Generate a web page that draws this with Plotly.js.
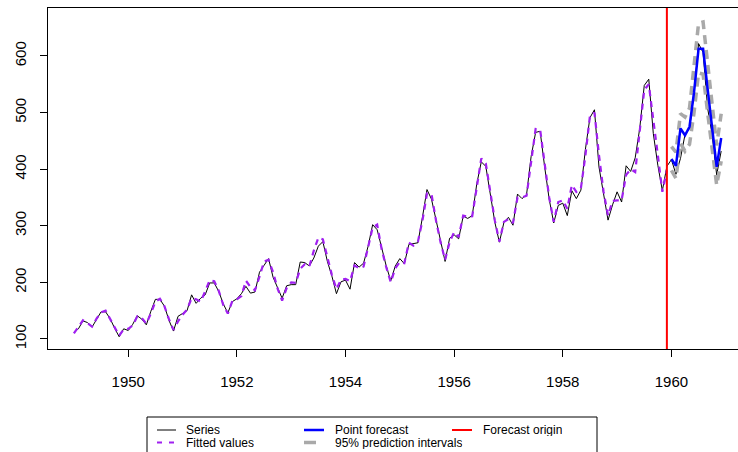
<!DOCTYPE html>
<html>
<head>
<meta charset="utf-8">
<script src="https://cdn.plot.ly/plotly-3.0.1.min.js"></script>
<style>html,body{margin:0;padding:0;background:#fff;}#chart{width:738px;height:452px;}</style>
</head>
<body>
<div id="chart"></div>
<script>
// ---- data ----
const seriesStart = 1949;
const frequency = 12;
const seriesValues = [
  112,118,132,129,121,135,148,148,136,119,104,118,
  115,126,141,135,125,149,170,170,158,133,114,140,
  145,150,178,163,172,178,199,199,184,162,146,166,
  171,180,193,181,183,218,230,242,209,191,172,194,
  196,196,236,235,229,243,264,272,237,211,180,201,
  204,188,235,227,234,264,302,293,259,229,203,229,
  242,233,267,269,270,315,364,347,312,274,237,278,
  284,277,317,313,318,374,413,405,355,306,271,306,
  315,301,356,348,355,422,465,467,404,347,305,336,
  340,318,362,348,363,435,491,505,404,359,310,337,
  360,342,406,396,420,472,548,559,463,407,362,405,
  417,391,419,461,472,535,622,606,508,461,390,432
];
const fittedValues = [
  110,121,133,128,122,136,147,150,135,120,106,117,
  118,124,140,137,127,145,166,171,158,135,116,131,
  143,152,172,170,166,184,204,202,185,160,145,167,
  170,176,203,192,186,210,237,240,218,189,168,190,
  200,199,224,232,228,256,279,276,244,213,188,205,
  206,202,230,225,228,261,297,302,258,227,200,225,
  236,234,270,265,272,309,357,356,309,271,240,271,
  289,280,318,316,317,368,419,410,356,309,272,307,
  312,305,350,350,353,413,471,470,411,350,307,342,
  345,330,372,360,366,424,494,500,425,361,318,344,
  345,345,390,400,395,465,540,550,490,425,360,398
];
const forecastStart = 1960;
const forecastValues = [418,406,472,460,475,536,613,613,542,472,404,455];
const upperValues   = [440,430,498,492,508,578,658,660,588,515,442,498];
const lowerValues   = [398,384,446,432,444,500,570,568,500,434,372,414];
const forecastOrigin = 1959 + 11/12;
const yTicks = [100,200,300,400,500,600];
const xTicks = [1950,1952,1954,1956,1958,1960];
const legendLabels = ["Series","Fitted values","Point forecast","95% prediction intervals","Forecast origin"];

// ---- build ----
const timeAxis = (start, n) => Array.from({length:n}, (_, i) => start + i/frequency);
const xSeries = timeAxis(seriesStart, seriesValues.length);
const xFitted = timeAxis(seriesStart, fittedValues.length);
const xFc = timeAxis(forecastStart, forecastValues.length);

const traces = [
  {x:xSeries, y:seriesValues, type:'scatter', mode:'lines', line:{color:'#000000', width:1}, name:legendLabels[0]},
  {x:xFitted, y:fittedValues, type:'scatter', mode:'lines', line:{color:'#A020F0', width:2.2, dash:'6px,5px'}, name:legendLabels[1]},
  {x:xFc, y:upperValues, type:'scatter', mode:'lines', line:{color:'#A9A9A9', width:3.5, dash:'9px,6px'}, name:legendLabels[3]},
  {x:xFc, y:lowerValues, type:'scatter', mode:'lines', line:{color:'#A9A9A9', width:3.5, dash:'9px,6px'}, name:legendLabels[3]},
  {x:xFc, y:forecastValues, type:'scatter', mode:'lines', line:{color:'#0000FF', width:2.5}, name:legendLabels[2]}
];

// paper coordinate helpers (plot area: x 48..738, y 8..349)
const W = 690, H = 341;
const px = v => (v - 48) / W;
const py = v => (349 - v) / H;
const row1 = py(430), row2 = py(442.5);

const shapes = [
  {type:'line', xref:'x', yref:'paper', x0:forecastOrigin, x1:forecastOrigin, y0:0, y1:1, line:{color:'#FF0000', width:2}},
  // legend box
  {type:'rect', xref:'paper', yref:'paper', x0:px(147), x1:px(597), y0:py(470), y1:py(417), line:{color:'#000', width:1}, fillcolor:'rgba(0,0,0,0)'},
  {type:'line', xref:'paper', yref:'paper', x0:px(157), x1:px(176), y0:row1, y1:row1, line:{color:'#000', width:1}},
  {type:'line', xref:'paper', yref:'paper', x0:px(157), x1:px(176), y0:row2, y1:row2, line:{color:'#A020F0', width:2, dash:'5px,7px'}},
  {type:'line', xref:'paper', yref:'paper', x0:px(304), x1:px(324), y0:row1, y1:row1, line:{color:'#0000FF', width:2.5}},
  {type:'line', xref:'paper', yref:'paper', x0:px(304), x1:px(316), y0:row2, y1:row2, line:{color:'#A9A9A9', width:3.5}},
  {type:'line', xref:'paper', yref:'paper', x0:px(452), x1:px(472), y0:row1, y1:row1, line:{color:'#FF0000', width:2}}
];

const lf = {family:'Liberation Sans, Arial, sans-serif', size:12, color:'#000'};
const annotations = [
  {text:legendLabels[0], x:px(185), y:row1},
  {text:legendLabels[1], x:px(185), y:row2},
  {text:legendLabels[2], x:px(334), y:row1},
  {text:legendLabels[3], x:px(334), y:row2},
  {text:legendLabels[4], x:px(482), y:row1}
].map(a => Object.assign(a, {xref:'paper', yref:'paper', xanchor:'left', yanchor:'middle', showarrow:false,
  font:lf, borderpad:0, height:12, valign:'middle'}));

const layout = {
  width:738, height:452,
  margin:{l:48, r:0, t:8, b:103, pad:0},
  paper_bgcolor:'#fff', plot_bgcolor:'#fff',
  showlegend:false,
  font:{family:'Liberation Sans, Arial, sans-serif', size:15, color:'#000'},
  xaxis:{range:[1948.523, 1961.226], tickvals:xTicks, ticktext:xTicks.map(String),
    showgrid:false, zeroline:false, showline:true, mirror:true, linecolor:'#000', linewidth:1,
    ticks:'outside', ticklen:7, tickcolor:'#000', tickwidth:1, ticklabelstandoff:12,
    tickfont:{size:15}},
  yaxis:{range:[82.3, 684.8], tickvals:yTicks, ticktext:yTicks.map(String),
    showgrid:false, zeroline:false, showline:true, mirror:false, linecolor:'#000', linewidth:1,
    ticks:'outside', ticklen:7, tickcolor:'#000', tickwidth:1, tickangle:-90, ticklabelstandoff:8,
    tickfont:{size:15}},
  shapes:shapes,
  annotations:annotations
};

Plotly.newPlot('chart', traces, layout, {displayModeBar:false, staticPlot:true});
</script>
</body>
</html>
